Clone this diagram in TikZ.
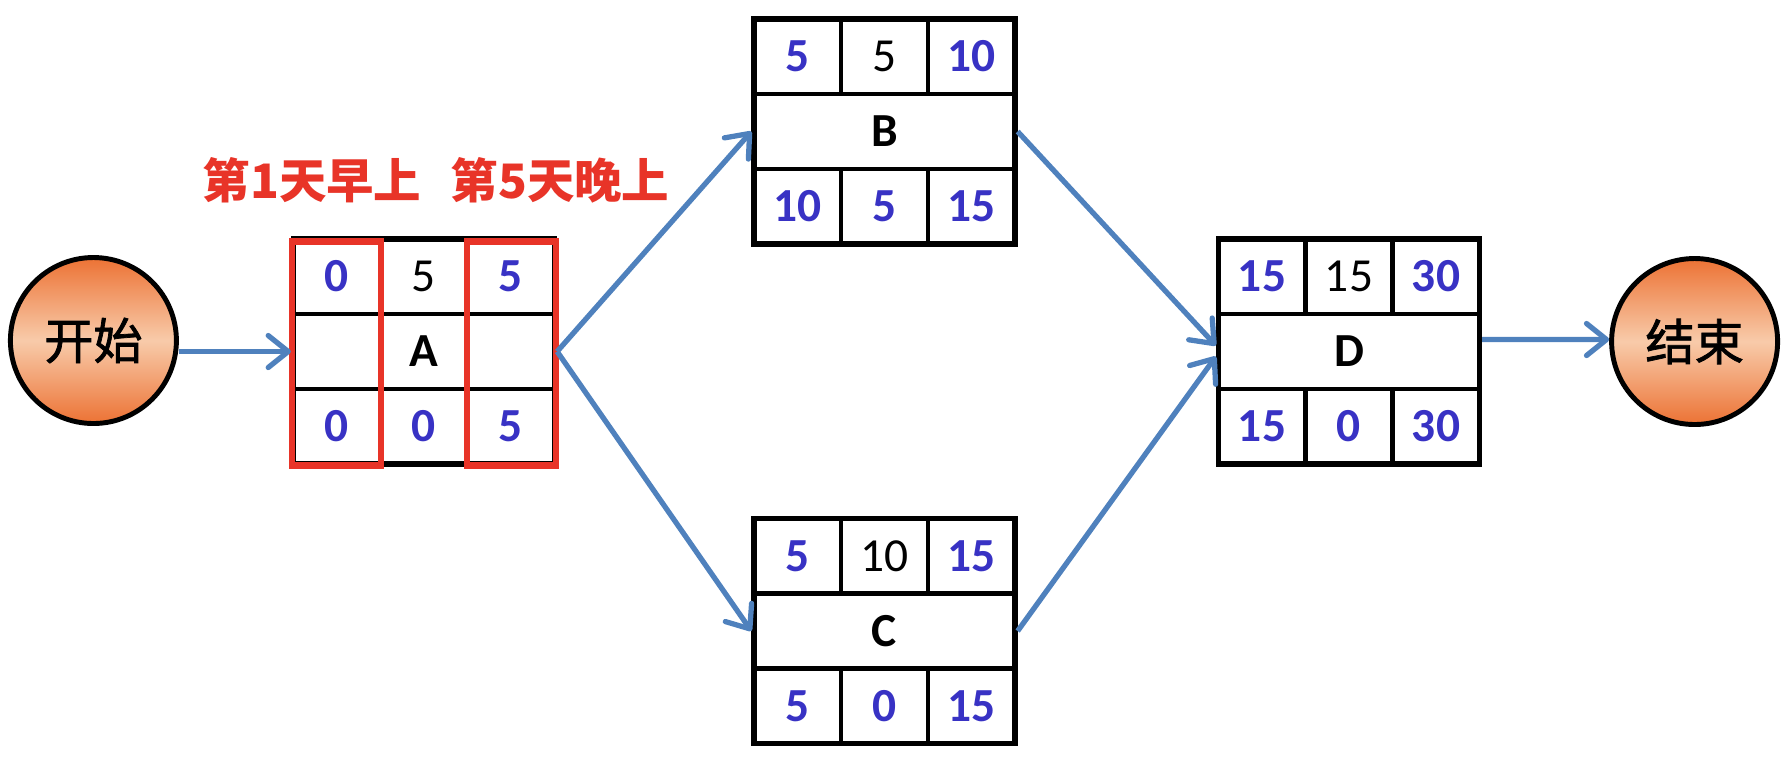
\documentclass[tikz,border=0pt]{standalone}
\usepackage{fontspec}
\setmainfont{Carlito}
\newfontfamily\cjk{Noto Sans CJK SC}
\newfontfamily\cjkev{Noto Sans CJK SC}[RawFeature={embolden=1.5}]
\usetikzlibrary{arrows.meta}
\usetikzlibrary{positioning}

\definecolor{numblue}{RGB}{56,50,196}
\definecolor{flowblue}{RGB}{79,129,189}
\definecolor{markred}{RGB}{232,52,40}
\definecolor{evout}{RGB}{236,114,52}
\definecolor{evin}{RGB}{248,203,170}

\tikzset{
    box/.style={rectangle, draw, line width=1.5pt, minimum width=2.61cm, minimum height=2.25cm, inner sep=0pt},
    grid/.style={line width=1.4pt},
    num/.style={text=numblue, font=\fontsize{13.5}{16}\selectfont\bfseries},
    plain/.style={font=\fontsize{13.5}{16}\selectfont},
    lbl/.style={font=\fontsize{13.5}{16}\selectfont\bfseries},
    event/.style={circle, draw, line width=1.4pt, minimum size=1.66cm, inner sep=0pt, top color=evout, bottom color=evout, middle color=evin, font=\cjkev\fontsize{14}{16}\selectfont},
    note/.style={text=markred, font=\cjk\bfseries\fontsize{13.5}{16}\selectfont},
    markbox/.style={draw=markred, line width=1.9pt},
    flow/.style={draw=flowblue, line width=1.5pt, -{Straight Barb[round,length=2mm,width=3.2mm]}}
}

% name, centre, ES, duration, EF, label, LS, slack, LF
\newcommand{\taskbox}[9]{%
    \begin{scope}[shift={#2}]
        \node [box] (#1) at (0,0) {};
        \draw [grid] (-1.305,0.375) -- (1.305,0.375) (-1.305,-0.375) -- (1.305,-0.375);
        \draw [grid] (-0.435,1.125) -- (-0.435,0.375) (0.435,1.125) -- (0.435,0.375)
                     (-0.435,-0.375) -- (-0.435,-1.125) (0.435,-0.375) -- (0.435,-1.125);
        \node [num] (#1-es) at (-0.87,0.75) {#3};
        \node [plain] (#1-dur) at (0,0.75) {#4};
        \node [num] (#1-ef) at (0.87,0.75) {#5};
        \node [lbl] (#1-name) at (0,0) {#6};
        \node [num] (#1-ls) at (-0.87,-0.75) {#7};
        \node [num] (#1-fl) at (0,-0.75) {#8};
        \node [num] (#1-lf) at (0.87,-0.75) {#9};
    \end{scope}}

\begin{document}
\begin{tikzpicture}
    \useasboundingbox (0,0) rectangle (17.87,-7.58);

    % Define blocks
    \taskbox{A}{(4.24,-3.515)}{0}{5}{5}{A}{0}{0}{5}
    \taskbox{B}{(8.845,-1.315)}{5}{5}{10}{B}{10}{5}{15}
    \taskbox{C}{(8.845,-6.31)}{5}{10}{15}{C}{5}{0}{15}
    \taskbox{D}{(13.49,-3.515)}{15}{15}{30}{D}{15}{0}{30}

    \node [event, left=1.12cm of A, yshift=0.11cm] (start) {开始};
    \node [event, right=1.27cm of D, yshift=0.1cm] (end) {结束};

    % Highlight columns of A
    \draw [markbox] ([shift={(0.01,-0.05)}]A.north west) rectangle ([shift={(0.9,0.01)}]A.south west);
    \draw [markbox] ([shift={(-0.9,-0.05)}]A.north east) rectangle ([shift={(-0.01,0.01)}]A.south east);
    \node [note] (early) at (3.12,-1.80) {第1天早上};
    \node [note] (late) at (5.60,-1.80) {第5天晚上};

    % Define arrows
    \draw [flow] ([yshift=-0.11cm]start.east) -- (A.west);
    \draw [flow] (A.east) -- (B.west);
    \draw [flow] (A.east) -- (C.west);
    \draw [flow] (B.east) -- ([yshift=0.06cm]D.west);
    \draw [flow] (C.east) -- ([yshift=-0.05cm]D.west);
    \draw [flow] ([yshift=0.12cm]D.east) -- ([yshift=0.02cm]end.west);
\end{tikzpicture}
\end{document}
